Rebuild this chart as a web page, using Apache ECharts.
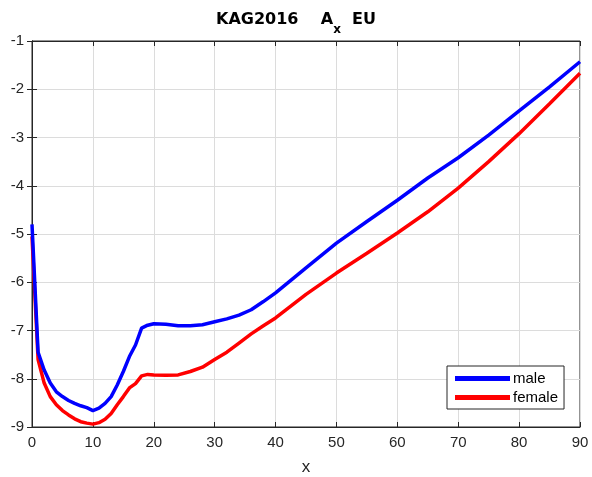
<!DOCTYPE html>
<html><head><meta charset="utf-8">
<script src="https://cdn.jsdelivr.net/npm/echarts@6/dist/echarts.min.js"></script>
<style>html,body{margin:0;padding:0;background:#fff}#c{width:592px;height:477px}</style>
</head><body><div id="c"></div>
<script>
const ages = [0,1,2,3,4,5,6,7,8,9,10,11,12,13,14,15,16,17,18,19,20,22,24,26,28,30,32,34,36,38,40,45,50,55,60,65,70,75,80,85,90];
const male = [-4.8,-7.45,-7.82,-8.09,-8.27,-8.37,-8.45,-8.51,-8.56,-8.6,-8.66,-8.61,-8.51,-8.37,-8.13,-7.85,-7.54,-7.3,-6.95,-6.89,-6.86,-6.87,-6.9,-6.9,-6.88,-6.82,-6.76,-6.68,-6.57,-6.4,-6.22,-5.7,-5.19,-4.74,-4.3,-3.84,-3.42,-2.95,-2.45,-1.95,-1.43];
const female = [-5.05,-7.6,-8.09,-8.37,-8.54,-8.66,-8.75,-8.83,-8.89,-8.92,-8.94,-8.91,-8.84,-8.72,-8.54,-8.37,-8.19,-8.1,-7.94,-7.91,-7.92,-7.93,-7.92,-7.85,-7.76,-7.6,-7.45,-7.26,-7.07,-6.9,-6.74,-6.25,-5.81,-5.4,-4.98,-4.54,-4.05,-3.5,-2.92,-2.3,-1.67];
const seriesNames = ['male','female'];
const xTicks = {min:0,max:90,interval:10};
const yTicks = {min:-9,max:-1,interval:1};

const font = 'Liberation Sans, Arial, sans-serif';
const tfont = 'DejaVu Sans, sans-serif';
const ax = '#262626';
const chart = echarts.init(document.getElementById('c'));
const pair = (ys) => ages.map((a,i)=>[a,ys[i]]);
const baseX = {type:'value',min:xTicks.min,max:xTicks.max,interval:xTicks.interval};
const baseY = {type:'value',min:yTicks.min,max:yTicks.max,interval:yTicks.interval};
chart.setOption({
  animation:false,
  backgroundColor:'#fff',
  title:{
    text:'{a|KAG2016    A}{s|x}{a|  EU}',
    left:'center', top:7,
    textStyle:{rich:{
      a:{fontFamily:tfont,fontWeight:'bold',fontSize:16,color:'#000',lineHeight:20,verticalAlign:'top'},
      s:{fontFamily:tfont,fontWeight:'bold',fontSize:12,color:'#000',lineHeight:20,padding:[12,0,0,0],verticalAlign:'top'}
    }}
  },
  grid:{left:32,right:12,top:41,bottom:50,show:true,borderColor:ax,borderWidth:1,backgroundColor:'#fff',
    outerBoundsMode:'none',containLabel:false},
  legend:{
    data:seriesNames, orient:'vertical', left:447, top:366,
    backgroundColor:'#fff', borderColor:ax, borderWidth:1, borderRadius:0,
    padding:[5,6,4,8], itemWidth:55, itemHeight:5, itemGap:4, icon:'rect',
    textStyle:{fontFamily:font,fontSize:15,color:'#000',padding:[0,0,0,-2]}
  },
  xAxis:[
    Object.assign({},baseX,{position:'bottom',name:'x',nameLocation:'middle',nameGap:32,
      nameTextStyle:{fontFamily:font,fontSize:17,color:ax},
      axisLine:{show:true,lineStyle:{color:ax}},
      axisTick:{show:true,inside:true,length:5,lineStyle:{color:ax}},
      axisLabel:{fontFamily:font,fontSize:15,color:ax,margin:8},
      splitLine:{show:true,lineStyle:{color:'#dcdcdc',width:1}}}),
    Object.assign({},baseX,{position:'top',
      axisLine:{show:true,lineStyle:{color:ax}},
      axisTick:{show:true,inside:true,length:5,lineStyle:{color:ax}},
      axisLabel:{show:false},splitLine:{show:false}})
  ],
  yAxis:[
    Object.assign({},baseY,{position:'left',
      axisLine:{show:true,lineStyle:{color:ax}},
      axisTick:{show:true,inside:true,length:5,lineStyle:{color:ax}},
      axisLabel:{fontFamily:font,fontSize:15,color:ax,margin:8},
      splitLine:{show:true,lineStyle:{color:'#dcdcdc',width:1}}}),
    Object.assign({},baseY,{position:'right',
      axisLine:{show:true,lineStyle:{color:ax}},
      axisTick:{show:true,inside:true,length:5,lineStyle:{color:ax}},
      axisLabel:{show:false},splitLine:{show:false}})
  ],
  series:[
    {name:seriesNames[0],type:'line',data:pair(male),showSymbol:false,symbol:'none',
      lineStyle:{color:'#0000ff',width:3.5},itemStyle:{color:'#0000ff'},z:3},
    {name:seriesNames[1],type:'line',data:pair(female),showSymbol:false,symbol:'none',
      lineStyle:{color:'#ff0000',width:3.5},itemStyle:{color:'#ff0000'},z:2}
  ]
});
</script></body></html>
